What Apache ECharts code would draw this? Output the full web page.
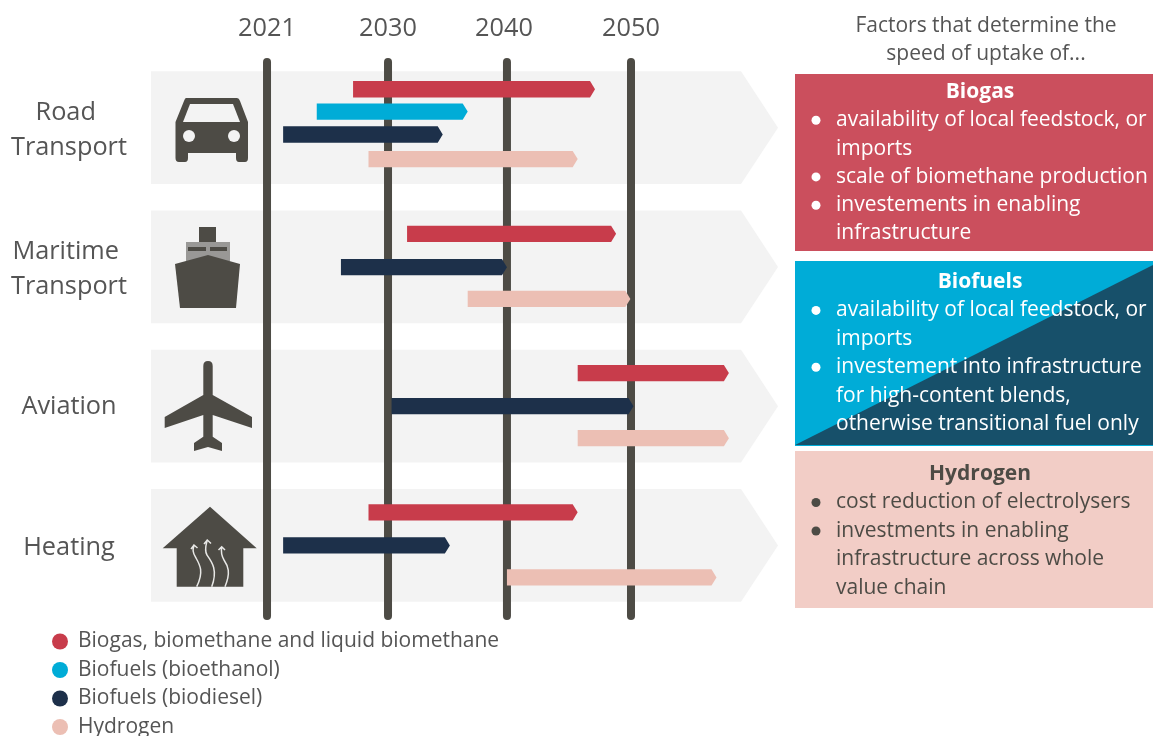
<!DOCTYPE html>
<html><head><meta charset="utf-8">
<style>html,body{margin:0;padding:0;background:#fff}#c{width:1153px;height:736px}</style>
<script src="https://cdn.jsdelivr.net/npm/echarts@6/dist/echarts.min.js"></script>
</head><body><div id="c"></div>
<script>
// ---- data ----
const sectors = ['Road \nTransport', 'Maritime \nTransport', 'Aviation', 'Heating'];
const tickYears = [2021, 2030, 2040, 2050];
const tickUnits = [0, 9.96, 19.75, 29.96];
// [sector index, lane, start year, end year]
const biogas = [[0,0,2027.4,2047.1],[1,0,2031.6,2048.8],[2,0,2045.7,2057.9],[3,0,2028.55,2045.7]];
const bioethanol = [[0,1,2024.7,2036.7]];
const biodiesel = [[0,2,2022.2,2034.6],[1,1,2026.5,2040.0],[2,1,2030.3,2050.2],[3,1,2022.2,2035.2]];
const hydrogen = [[0,3,2028.55,2045.7],[1,2,2036.7,2049.95],[2,2,2045.7,2057.9],[3,2,2040.0,2056.9]];
const seriesNames = ['Biogas, biomethane and liquid biomethane','Biofuels (bioethanol)','Biofuels (biodiesel)','Hydrogen'];
const seriesColors = ['#c83c4b','#00acd7','#1d304a','#ecbfb4'];
const factorsTitle = ['Factors that determine the','speed of uptake of...'];
const panelBiogas = {title:'Biogas', lines:[['•','availability of local feedstock, or'],['','imports'],['•','scale of biomethane production'],['•','investements in enabling'],['','infrastructure']]};
const panelBiofuels = {title:'Biofuels', lines:[['•','availability of local feedstock, or'],['','imports'],['•','investement into infrastructure'],['','for high-content blends,'],['','otherwise transitional fuel only']]};
const panelHydrogen = {title:'Hydrogen', lines:[['•','cost reduction of electrolysers'],['•','investments in enabling'],['','infrastructure across whole'],['','value chain']]};

// ---- scale helper: the year axis in the figure is not quite even ----
function yearToUnit(y){
  for(let i=0;i<tickYears.length-1;i++){
    if(y<=tickYears[i+1]){
      const t=(y-tickYears[i])/(tickYears[i+1]-tickYears[i]);
      return tickUnits[i]+t*(tickUnits[i+1]-tickUnits[i]);
    }
  }
  return tickUnits[3]+(y-2050)*1.02;
}
const laneOffsets = [[-0.276,-0.115,0.05,0.226],[-0.237,0.002,0.23],[-0.237,0,0.23],[-0.237,0,0.23]];

function renderBar(params, api){
  const row=api.value(0), lane=api.value(1);
  const band=api.size([0,1])[1];
  const cy=api.coord([0,row])[1]+laneOffsets[row][lane]*band;
  const x0=api.coord([api.value(2),row])[0], x1=api.coord([api.value(3),row])[0];
  const h=band*0.118, tip=5;
  return {type:'polygon',shape:{points:[[x0,cy-h/2],[x1-tip,cy-h/2],[x1,cy],[x1-tip,cy+h/2],[x0,cy+h/2]]},
    style:{fill:api.visual('color')}};
}
function barSeries(i,arr){
  return {name:seriesNames[i],type:'custom',coordinateSystem:'cartesian2d',z:5,
    itemStyle:{color:seriesColors[i]},silent:true,
    encode:{x:[2,3],y:0},
    data:arr.map(d=>[d[0],d[1],yearToUnit(d[2]),yearToUnit(d[3])]),renderItem:renderBar};
}

// ---- icons ----
const ink='#4d4b45', bandFill='#f3f3f3';
const icons=[
 {type:'path',shape:{pathData:'M186,98 H237 Q239,98 240,101 L248,122 V158 Q248,162 245,162 H239 Q236,162 236,158 V153 H188 V158 Q188,162 185,162 H179 Q175.5,162 175.5,158 V122 L184,101 Q185,98 186,98 Z'},style:{fill:ink}},
 {type:'polygon',shape:{points:[[183,122],[240,122],[233,104],[190,104]]},style:{fill:bandFill}},
 {type:'circle',shape:{cx:189,cy:136,r:6},style:{fill:bandFill}},
 {type:'circle',shape:{cx:234,cy:136,r:6},style:{fill:bandFill}},
 {type:'rect',shape:{x:199,y:227,width:17,height:16},style:{fill:ink}},
 {type:'rect',shape:{x:186,y:242,width:44,height:19},style:{fill:'#999896'}},
 {type:'rect',shape:{x:188,y:247,width:18,height:4},style:{fill:ink}},
 {type:'rect',shape:{x:210,y:247,width:17,height:4},style:{fill:ink}},
 {type:'polygon',shape:{points:[[175,264],[208,255],[240,264],[236,308],[180,308]]},style:{fill:ink}},
 {type:'path',shape:{pathData:'M203.3,366 Q203.3,361 208,361 Q212.7,361 212.7,366 V395 L252,417 V428 L212.7,415 V436.7 L222,443 V451 L208,447 L194,451 V443 L203.3,436.7 V415 L164.7,428 V417 L203.3,395 Z'},style:{fill:ink}},
 {type:'polygon',shape:{points:[[210,506.7],[256.7,548.3],[243.3,548.3],[243.3,586.7],[176.7,586.7],[176.7,548.3],[162.7,548.3]]},style:{fill:ink}},
 {type:'path',shape:{pathData:'M196.7,586.7 C204,572 200,565 196,558 C192,552 193,549 194,545 M191,549 L194,545 L197.5,548 M211.7,586.7 C218,570 212,562 207,555 C204,550 206,545 207.3,540 M204,544 L207.3,540 L211,543.5 M225,586.7 C231,572 228,566 224,560 C221,555 221,551 221.7,546.7 M218.5,550 L221.7,546.7 L225,550'},style:{fill:'none',stroke:'#e8e8e6',lineWidth:1.5}}
];

// ---- panels ----
const F="'Open Sans'";
function panel(p,txt,startY,step){
  const out=[];
  out.push({type:'text',style:{x:980,y:startY,text:p.title,font:'bold 21px '+F,fill:txt,align:'center',verticalAlign:'middle'}});
  p.lines.forEach((l,i)=>{
    const ly=startY+step*(i+1);
    if(l[0]) out.push({type:'circle',shape:{cx:816,cy:ly,r:4.5},style:{fill:txt}});
    out.push({type:'text',style:{x:836,y:ly,text:l[1],font:'21px '+F,fill:txt,align:'left',verticalAlign:'middle'}});
  });
  return out;
}
const panels=[
 {type:'rect',shape:{x:795,y:74,width:358,height:177},style:{fill:'#cb4f5d'}},
 {type:'rect',shape:{x:795,y:261,width:358,height:185},style:{fill:'#00acd7'}},
 {type:'polygon',shape:{points:[[795,445],[1153,265],[1153,445]]},style:{fill:'#17506a'}},
 {type:'rect',shape:{x:795,y:451,width:358,height:157},style:{fill:'#f2cdc6'}},
 ...panel(panelBiogas,'#fff',92,28.3),
 ...panel(panelBiofuels,'#fff',282,28.4),
 ...panel(panelHydrogen,'#4d4b45',474,28.5),
 {type:'text',style:{x:986,y:26,text:factorsTitle[0],font:'21px '+F,fill:'#555',align:'center',verticalAlign:'middle'}},
 {type:'text',style:{x:986,y:54,text:factorsTitle[1],font:'21px '+F,fill:'#555',align:'center',verticalAlign:'middle'}}
];

const chart=echarts.init(document.getElementById('c'),null,{renderer:'canvas'});
chart.setOption({
  animation:false,
  backgroundColor:'#fff',
  textStyle:{fontFamily:F},
  grid:{left:151,right:375,top:58,height:557,containLabel:false},
  xAxis:{type:'value',position:'top',min:-9.55,max:42.06,
    axisLine:{show:false},axisTick:{show:false},splitLine:{show:false},
    axisLabel:{customValues:tickUnits,margin:17,fontSize:25.3,color:'#555',fontFamily:F,
      rich:{s:{fontSize:25.3,color:'#555',fontFamily:F,padding:[0,6,0,0]}},
      formatter:v=>{const i=tickUnits.indexOf(v);if(i<0)return '';return tickYears[i]===2040?'{s|2040}':String(tickYears[i]);}}},
  yAxis:{type:'category',inverse:true,data:sectors,
    axisLine:{show:false},axisTick:{show:false},splitLine:{show:false},
    axisLabel:{show:false}},
  legend:{orient:'vertical',left:47,top:626,height:200,itemWidth:16,itemHeight:16,itemGap:7.5,icon:'circle',selectedMode:false,
    data:seriesNames,textStyle:{fontSize:21,color:'#555',fontFamily:F,padding:[0,0,0,5]}},
  series:[
    {type:'custom',name:'bands',coordinateSystem:'cartesian2d',z:1,silent:true,encode:{y:0},
     data:sectors.map((s,i)=>[i]),
     renderItem(params,api){
       const c=params.coordSys, band=api.size([0,1])[1], cy=api.coord([0,api.value(0)])[1], h=band*0.81;
       const r=c.x+c.width;
       return {type:'polygon',shape:{points:[[c.x,cy-h/2],[r-37,cy-h/2],[r,cy],[r-37,cy+h/2],[c.x,cy+h/2]]},style:{fill:bandFill}};
     }},
    {type:'custom',name:'sectorLabels',coordinateSystem:'cartesian2d',z:3,silent:true,encode:{y:0},
     data:sectors.map((s,i)=>[i]),
     renderItem(params,api){
       const c=params.coordSys, i=api.value(0), cy=api.coord([0,i])[1];
       return {type:'text',style:{x:c.x-82,y:cy+(i===2?1:2.5),text:sectors[i],align:'center',verticalAlign:'middle',
         font:"25.3px "+F,lineHeight:35,fill:'#555'}};
     }},
    {type:'custom',name:'years',coordinateSystem:'cartesian2d',z:2,silent:true,encode:{x:0},
     data:tickUnits.map(v=>[v]),
     renderItem(params,api){
       const c=params.coordSys, x=api.coord([api.value(0),0])[0];
       return {type:'line',shape:{x1:x,y1:c.y+4,x2:x,y2:c.y+c.height+1},style:{stroke:ink,lineWidth:8,lineCap:'round'}};
     }},
    {type:'custom',name:'icons',coordinateSystem:'cartesian2d',z:3,silent:true,encode:{y:0},
     data:[[0]],
     renderItem(){return {type:'group',children:icons};}},
    barSeries(0,biogas),barSeries(1,bioethanol),barSeries(2,biodiesel),barSeries(3,hydrogen)
  ],
  graphic:{elements:panels.map(e=>({...e,z:10}))}
});
</script></body></html>
